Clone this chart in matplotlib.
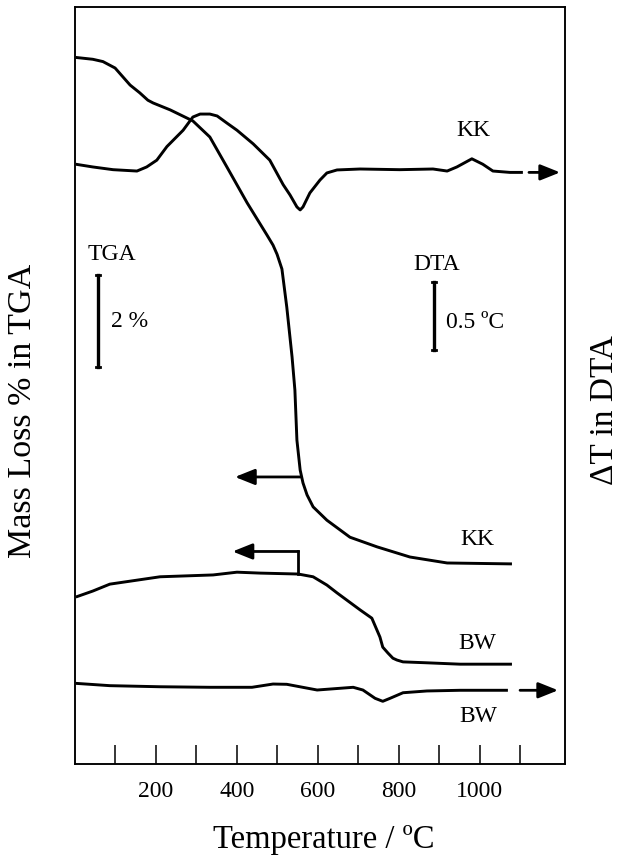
import numpy as np
import matplotlib
matplotlib.use("Agg")
import matplotlib.pyplot as plt

plt.rcParams['font.family'] = ['Liberation Serif', 'DejaVu Serif']

# KK, TGA (mass, %; offset arbitrary)
kk_tga_t = [2, 44, 69, 99, 116, 136, 160, 180, 193, 235, 291, 333, 375, 425, 474, 489,
            499, 511, 523, 536, 543, 548, 556, 563, 573, 588, 622, 679, 746, 827, 919, 1079]
kk_tga_v = [15.36, 15.32, 15.27, 15.13, 14.96, 14.76, 14.59, 14.43, 14.37, 14.22, 13.98,
            13.63, 12.98, 12.20, 11.50, 11.28, 11.08, 10.76, 9.93, 8.85, 8.13, 7.04, 6.39,
            6.11, 5.85, 5.59, 5.30, 4.93, 4.72, 4.50, 4.37, 4.35]

# BW, TGA
bw_tga_t = [2, 44, 86, 210, 341, 400, 457, 551, 588, 622, 647, 704, 733, 753, 760, 773,
            785, 795, 810, 869, 951, 1079]
bw_tga_v = [3.63, 3.76, 3.91, 4.07, 4.11, 4.17, 4.15, 4.13, 4.07, 3.89, 3.72, 3.35, 3.17,
            2.76, 2.54, 2.41, 2.30, 2.26, 2.22, 2.20, 2.17, 2.17]

# KK, DTA (delta T, degC; offset arbitrary)
kk_dta_t = [2, 44, 94, 153, 177, 202, 227, 267, 291, 309, 333, 351, 375, 400, 440, 481,
            514, 531, 548, 556, 563, 580, 605, 622, 647, 704, 802, 884, 919, 943, 980,
            1007, 1032, 1074, 1106]
kk_dta_v = [4.41, 4.39, 4.37, 4.36, 4.39, 4.44, 4.54, 4.66, 4.757, 4.779, 4.779, 4.765,
            4.713, 4.66, 4.56, 4.44, 4.26, 4.184, 4.096, 4.074, 4.096, 4.199, 4.294, 4.346,
            4.368, 4.375, 4.37, 4.375, 4.36, 4.39, 4.45, 4.41, 4.36, 4.35, 4.35]

# BW, DTA
bw_dta_t = [2, 86, 210, 333, 437, 489, 523, 598, 687, 711, 741, 760, 778, 810, 869,
            951, 1069]
bw_dta_v = [0.593, 0.576, 0.568, 0.564, 0.564, 0.588, 0.586, 0.544, 0.564, 0.544,
            0.483, 0.461, 0.483, 0.524, 0.537, 0.542, 0.542]

xticks = list(range(100, 1200, 100))
xticklabels = [str(t) if t % 200 == 0 and t <= 1000 else '' for t in xticks]

W, H = 619, 861
fig = plt.figure(figsize=(W / 100, H / 100), dpi=100)
ax = fig.add_axes([75 / W, 1 - 764 / H, 490 / W, 757 / H])
ax2 = ax.twinx()

lw = 2.1
for a, t, v in [(ax, kk_tga_t, kk_tga_v), (ax, bw_tga_t, bw_tga_v),
                (ax2, kk_dta_t, kk_dta_v), (ax2, bw_dta_t, bw_dta_v)]:
    a.plot(t, v, color='black', lw=lw, solid_joinstyle='round', solid_capstyle='butt')

ax.set_xlim(0, 1210)
ax.set_ylim(0, 757 / 46)
ax2.set_ylim(0, 757 / 136)

ax.set_xticks(xticks)
ax.set_xticklabels(xticklabels, fontsize=17)
ax.tick_params(axis='x', direction='in', length=14, width=1.1, pad=12, top=False)
ax.tick_params(axis='y', left=False, labelleft=False)
ax2.tick_params(axis='y', right=False, labelright=False)
for a in (ax, ax2):
    for s in a.spines.values():
        s.set_linewidth(1.1)

# arrows pointing to the axis each curve belongs to
arr = dict(arrowstyle='-|>,head_length=0.75,head_width=0.3', color='black', lw=2.0,
           mutation_scale=16, shrinkA=0, shrinkB=0)
ax.annotate('', xy=(395, 6.24), xytext=(557, 6.24), arrowprops=arr)
ax.plot([551, 551], [4.13, 4.62], color='black', lw=2.0)
ax.annotate('', xy=(389, 4.62), xytext=(552, 4.62), arrowprops=arr)
ax2.annotate('', xy=(1198, 4.35), xytext=(1121, 4.35), arrowprops=arr)
ax2.annotate('', xy=(1193, 0.542), xytext=(1099, 0.542), arrowprops=arr)

# scale bars
cap = 5
ax.plot([57.5, 57.5], [8.63, 10.63], color='black', lw=2.4)
ax.plot([57.5 - cap, 57.5 + cap], [10.63, 10.63], color='black', lw=2.0)
ax.plot([57.5 - cap, 57.5 + cap], [8.63, 8.63], color='black', lw=2.0)
ax2.plot([886, 886], [3.044, 3.544], color='black', lw=2.4)
ax2.plot([886 - cap, 886 + cap], [3.544, 3.544], color='black', lw=2.0)
ax2.plot([886 - cap, 886 + cap], [3.044, 3.044], color='black', lw=2.0)

fs = 17
ax.text(91, 11.07, 'TGA', fontsize=fs, ha='center', va='center')
ax.text(89, 9.61, '2 %', fontsize=fs, ha='left', va='center')
ax.text(894, 10.85, 'DTA', fontsize=fs, ha='center', va='center')
ax.text(916, 9.59, '0.5 ºC', fontsize=fs, ha='left', va='center')
ax.text(983, 13.78, 'KK', fontsize=fs, ha='center', va='center')
ax.text(993, 4.89, 'KK', fontsize=fs, ha='center', va='center')
ax.text(993, 2.61, 'BW', fontsize=fs, ha='center', va='center')
ax.text(995, 1.04, 'BW', fontsize=fs, ha='center', va='center')

fig.text(324 / W, 1 - 840 / H, 'Temperature / ºC', fontsize=23.5, ha='center', va='center')
fig.text(23 / W, 1 - 411 / H, 'Mass Loss % in TGA', fontsize=24.5, rotation=90,
         ha='center', va='center')
fig.text(605 / W, 1 - 410 / H, 'ΔT in DTA', fontsize=24, rotation=90,
         ha='center', va='center')

fig.savefig('out.png', dpi=100)
